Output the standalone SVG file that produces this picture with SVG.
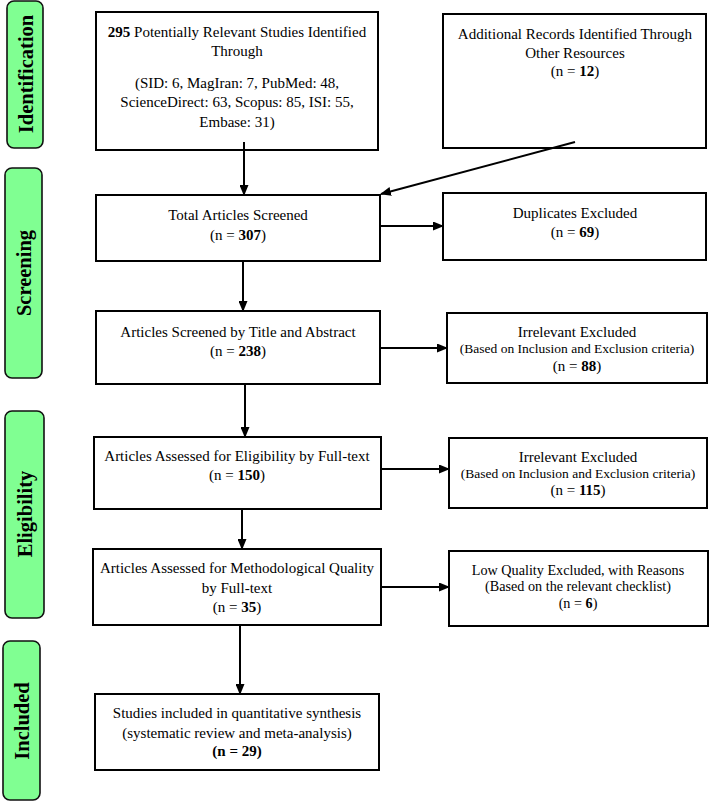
<svg xmlns="http://www.w3.org/2000/svg" width="710" height="802" viewBox="0 0 710 802">
<defs>
<marker id="ah" markerUnits="userSpaceOnUse" markerWidth="11" markerHeight="9" refX="10" refY="4.5" orient="auto">
<path d="M0,0 L11,4.5 L0,9 z" fill="#000"/>
</marker>
<style>
.stage rect{fill:#80FF92;stroke:#111;stroke-width:1.6}
.stage text{font-family:"Liberation Serif","Times New Roman",serif;font-weight:bold;font-size:20.5px;fill:#000;text-anchor:middle;dominant-baseline:central}
.box rect{fill:#fff;stroke:#000;stroke-width:2}
.box text{font-family:"Liberation Serif","Times New Roman",serif;font-size:15px;fill:#000;text-anchor:middle}
.box text.s{font-size:13.5px}
.box text.m{font-size:14.2px}
b,.b{font-weight:bold}
.conn line{stroke:#000;stroke-width:2;marker-end:url(#ah)}
</style>
</defs>
<rect width="710" height="802" fill="#fff"/>

<g id="stage-identification" class="stage"><rect x="7" y="1" width="36" height="147" rx="7"/><text transform="translate(26,74) rotate(-90)">Identification</text></g>
<g id="stage-screening" class="stage"><rect x="5" y="168" width="37" height="210" rx="7"/><text transform="translate(24,273) rotate(-90)">Screening</text></g>
<g id="stage-eligibility" class="stage"><rect x="5" y="411" width="39" height="207" rx="7"/><text transform="translate(25,514) rotate(-90)">Eligibility</text></g>
<g id="stage-included" class="stage"><rect x="3" y="641" width="37" height="159" rx="7"/><text transform="translate(22,721) rotate(-90)">Included</text></g>

<g id="n-identified" class="box"><rect x="96" y="12" width="282" height="138"/>
<text x="237" y="37"><tspan class="b">295</tspan> Potentially Relevant Studies Identified</text>
<text x="237" y="56">Through</text>
<text x="237" y="88">(SID: 6, MagIran: 7, PubMed: 48,</text>
<text x="237" y="107">ScienceDirect: 63, Scopus: 85, ISI: 55,</text>
<text x="237" y="127">Embase: 31)</text></g>

<g id="n-additional" class="box"><rect x="443" y="14" width="263" height="134"/>
<text x="575" y="39">Additional Records Identified Through</text>
<text x="575" y="58">Other Resources</text>
<text x="575" y="76">(n = <tspan class="b">12</tspan>)</text></g>

<g id="n-total" class="box"><rect x="96" y="195" width="284" height="66"/>
<text x="238" y="220">Total Articles Screened</text>
<text x="238" y="240">(n = <tspan class="b">307</tspan>)</text></g>

<g id="n-duplicates" class="box"><rect x="443" y="193" width="263" height="67"/>
<text x="575" y="218">Duplicates Excluded</text>
<text x="575" y="237">(n = <tspan class="b">69</tspan>)</text></g>

<g id="n-title" class="box"><rect x="96" y="311" width="284" height="73"/>
<text x="238" y="337">Articles Screened by Title and Abstract</text>
<text x="238" y="356">(n = <tspan class="b">238</tspan>)</text></g>

<g id="n-irrelevant1" class="box"><rect x="447" y="313" width="260" height="70"/>
<text x="577" y="337">Irrelevant Excluded</text>
<text x="577" y="353" class="s">(Based on Inclusion and Exclusion criteria)</text>
<text x="577" y="371">(n = <tspan class="b">88</tspan>)</text></g>

<g id="n-eligibility" class="box"><rect x="94" y="437" width="287" height="72"/>
<text x="237" y="461">Articles Assessed for Eligibility by Full-text</text>
<text x="237" y="480">(n = <tspan class="b">150</tspan>)</text></g>

<g id="n-irrelevant2" class="box"><rect x="449" y="438" width="258" height="70"/>
<text x="578" y="462">Irrelevant Excluded</text>
<text x="578" y="478" class="s">(Based on Inclusion and Exclusion criteria)</text>
<text x="578" y="495">(n = <tspan class="b">115</tspan>)</text></g>

<g id="n-quality" class="box"><rect x="93" y="549" width="288" height="76"/>
<text x="237" y="573">Articles Assessed for Methodological Quality</text>
<text x="237" y="593">by Full-text</text>
<text x="237" y="612">(n = <tspan class="b">35</tspan>)</text></g>

<g id="n-lowquality" class="box"><rect x="449" y="551" width="259" height="75"/>
<text x="578" y="575" class="m">Low Quality Excluded, with Reasons</text>
<text x="578" y="591" class="m">(Based on the relevant checklist)</text>
<text x="578" y="608" class="m">(n = <tspan class="b">6</tspan>)</text></g>

<g id="n-included" class="box"><rect x="95" y="694" width="284" height="76"/>
<text x="237" y="718">Studies included in quantitative synthesis</text>
<text x="237" y="738">(systematic review and meta-analysis)</text>
<text x="237" y="756" class="b">(n = 29)</text></g>

<g id="connectors" class="conn">
<line x1="244" y1="142" x2="244" y2="195"/>
<line x1="575" y1="142" x2="381" y2="194"/>
<line x1="380" y1="226" x2="443" y2="226"/>
<line x1="243" y1="261" x2="243" y2="311"/>
<line x1="380" y1="348" x2="447" y2="348"/>
<line x1="245" y1="384" x2="245" y2="437"/>
<line x1="381" y1="469" x2="449" y2="469"/>
<line x1="242" y1="509" x2="242" y2="549"/>
<line x1="381" y1="587" x2="449" y2="587"/>
<line x1="240" y1="625" x2="240" y2="694"/>
</g>
</svg>
